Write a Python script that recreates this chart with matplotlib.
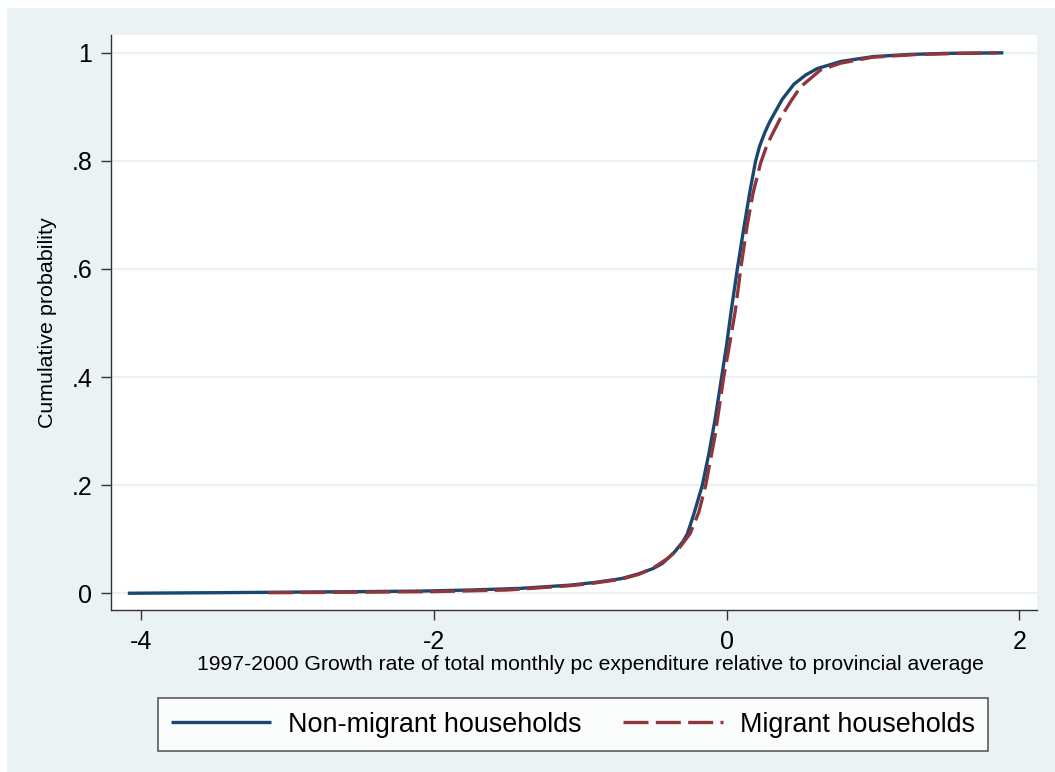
import numpy as np
import matplotlib.pyplot as plt
from matplotlib.patches import Rectangle

plt.rcParams['font.family'] = ['Liberation Sans', 'DejaVu Sans']

# empirical CDF of expenditure growth, read at selected points
nonmig_x = [-4.09, -3.5, -3.0, -2.5, -2.09, -1.75, -1.41, -1.07, -0.90, -0.72, -0.60,
            -0.50, -0.44, -0.36, -0.30, -0.268, -0.22, -0.166, -0.12, -0.08, -0.034,
            0.0, 0.032, 0.073, 0.12, 0.16, 0.198, 0.225, 0.26, 0.29, 0.32, 0.38, 0.46,
            0.54, 0.62, 0.78, 1.0, 1.25, 1.5, 1.89]
nonmig_y = [0.0, 0.001, 0.002, 0.003, 0.004, 0.006, 0.009, 0.015, 0.020, 0.027, 0.036,
            0.046, 0.055, 0.075, 0.095, 0.11, 0.15, 0.20, 0.26, 0.32, 0.40,
            0.46, 0.524, 0.60, 0.68, 0.745, 0.80, 0.827, 0.852, 0.870, 0.885, 0.914, 0.942,
            0.959, 0.971, 0.984, 0.993, 0.997, 0.999, 1.0]

mig_x = [-3.13, -2.5, -2.0, -1.5, -1.07, -0.90, -0.72, -0.60, -0.50, -0.40, -0.32,
         -0.25, -0.19, -0.143, -0.08, -0.02, 0.02, 0.06, 0.096, 0.14, 0.18, 0.232,
         0.27, 0.30, 0.369, 0.44, 0.505, 0.64, 0.78, 1.0, 1.3, 1.6, 1.85]
mig_y = [0.001, 0.002, 0.003, 0.006, 0.014, 0.019, 0.026, 0.035, 0.047, 0.065, 0.085,
         0.11, 0.15, 0.20, 0.29, 0.40, 0.46, 0.524, 0.60, 0.68, 0.74, 0.796,
         0.825, 0.843, 0.880, 0.911, 0.937, 0.968, 0.981, 0.992, 0.997, 0.999, 1.0]

xticks = [-4, -2, 0, 2]
yticks = [0, 0.2, 0.4, 0.6, 0.8, 1.0]
ytick_labels = ['0', '.2', '.4', '.6', '.8', '1']

bg = '#eaf2f3'
navy = '#1a476f'
maroon = '#90353b'

fig = plt.figure(figsize=(10.55, 7.72), dpi=100)
fig.patch.set_facecolor('white')
fig.patches.append(Rectangle((7 / 1055, 0), 1, 1 - 8 / 772, transform=fig.transFigure,
                             facecolor=bg, edgecolor='none', zorder=-5))

ax = fig.add_axes([111 / 1055, 1 - 610 / 772, 926 / 1055, 575 / 772])
ax.set_zorder(2)
ax.set_facecolor('white')

l1, = ax.plot(nonmig_x, nonmig_y, color=navy, lw=2.4, solid_capstyle='butt',
              solid_joinstyle='round')
l2, = ax.plot(mig_x, mig_y, color=maroon, lw=2.4, dashes=(7.5, 2.2))

ax.set_xlim(-4.205, 2.12)
ax.set_ylim(-0.031, 1.033)
ax.set_xticks(xticks)
ax.set_xticklabels([str(t) for t in xticks])
ax.set_yticks(yticks)
ax.set_yticklabels(ytick_labels)
ax.yaxis.grid(True, color=bg, lw=1.6)
ax.set_axisbelow(True)

for s in ['top', 'right']:
    ax.spines[s].set_visible(False)
for s in ['left', 'bottom']:
    ax.spines[s].set_color('#333333')
    ax.spines[s].set_linewidth(1.0)
ax.tick_params(axis='both', direction='out', length=7.5, width=1.0, color='#333333',
               labelsize=18, pad=6)
ax.tick_params(axis='x', pad=7)

fig.text(590 / 1055, 1 - 665 / 772,
         '1997-2000 Growth rate of total monthly pc expenditure relative to provincial average',
         ha='center', va='center', fontsize=15.2)
fig.text(48 / 1055, 1 - 323 / 772, 'Cumulative probability', rotation=90,
         ha='center', va='center', fontsize=15.4)

leg = fig.legend([l1, l2], ['Non-migrant households', 'Migrant households'],
                 loc='center', ncol=2,
                 bbox_to_anchor=(573 / 1055, 1 - 724.5 / 772),
                 fontsize=19.4, frameon=True, fancybox=False, handlelength=3.7,
                 handletextpad=0.62, columnspacing=1.56, borderpad=0.5,
                 borderaxespad=0.0)
leg.get_frame().set_edgecolor('#333333')
leg.get_frame().set_linewidth(1.2)

fig.savefig('out.png', dpi=100, facecolor=fig.get_facecolor())
